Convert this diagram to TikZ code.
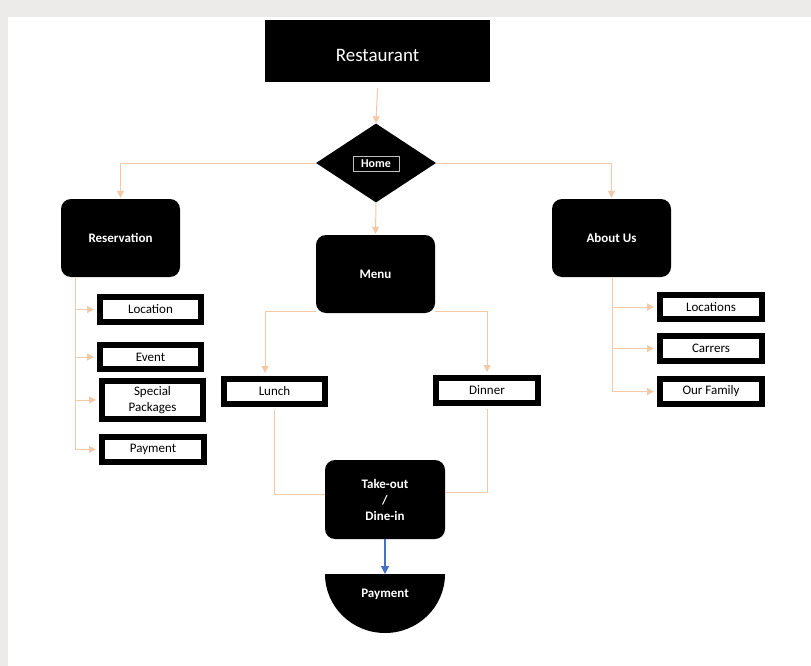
\documentclass[tikz,border=0pt]{standalone}
\usepackage{fontspec}
\setmainfont{Carlito}
\usetikzlibrary{shapes.geometric,arrows.meta}
\definecolor{peach}{RGB}{244,201,168}
\definecolor{flowblue}{RGB}{68,114,196}
\definecolor{pagegray}{RGB}{236,235,233}
\tikzset{
	blackbox/.style={fill=black, text=white, inner sep=0pt, font=\bfseries\fontsize{13}{15}\selectfont},
	roundbox/.style={blackbox, rounded corners=10pt, minimum width=119pt, minimum height=78pt},
	itembox/.style={draw=black, line width=6pt, fill=white, inner sep=0pt, minimum width=101pt, minimum height=25pt, align=center, font=\fontsize{13}{16}\selectfont},
	link/.style={draw=peach, line width=1pt},
	arrow/.style={link, -{Triangle[length=7pt,width=7pt]}}
}
\begin{document}
	\begin{tikzpicture}[x=1pt, y=-1pt]
		\useasboundingbox (0,0) rectangle (811,666);
		\fill[pagegray] (0,0) rectangle (811,666);
		\fill[white] (8,17) rectangle (811,666);	% Page
		% Top and home
		\node[blackbox, minimum width=225pt, minimum height=62pt, font=\fontsize{19}{22}\selectfont] (rest) at (377.5,51) {\raisebox{-11pt}[0pt][0pt]{Restaurant}};
		\node[diamond, fill=black, minimum width=120pt, minimum height=79pt, inner sep=0pt] (home) at (376,163) {};
		\node[draw=white!75!black, line width=0.8pt, text=white, minimum width=46pt, minimum height=15pt, inner sep=0pt, font=\bfseries\fontsize{12}{14}\selectfont] (homelabel) at (376,163.5) {Home};
		% Main sections
		\node[roundbox] (resv) at (120.5,238) {Reservation};
		\node[roundbox] (menu) at (375.5,274) {Menu};
		\node[roundbox] (about) at (611.5,238) {About Us};
		\node[roundbox, align=center, minimum width=120pt, minimum height=79pt, font=\bfseries\fontsize{13}{16}\selectfont] (take) at (385,499.5) {Take-out\\/\\Dine-in};
		% Reservation items
		\node[itembox] (loc) at (150.5,309.5) {Location};
		\node[itembox, minimum height=24pt] (event) at (150.5,357) {Event};
		\node[itembox, minimum height=38pt] (special) at (152.5,400) {Special\\Packages};
		\node[itembox, minimum width=102pt] (respay) at (153,449.5) {Payment};
		% About items
		\node[itembox, minimum width=102pt, minimum height=24pt] (locs) at (711,307) {Locations};
		\node[itembox, minimum width=102pt] (career) at (711,348.5) {Carrers};
		\node[itembox, minimum width=102pt] (family) at (711,391.5) {Our Family};
		% Menu items
		\node[itembox] (lunch) at (274.5,391.5) {Lunch};
		\node[itembox, minimum width=102pt] (dinner) at (487,390.5) {Dinner};
		% Payment half disc
		\fill (325,574) -- (445,574) arc[start angle=0, end angle=180, x radius=60, y radius=59] -- cycle;
		\coordinate (paytop) at (385,574);
		\node[text=white, font=\bfseries\fontsize{13}{15}\selectfont] (pay) at (385,594) {Payment};
		% Connectors
		\draw[arrow] ([yshift=-6pt]rest.south) -- (home.north);
		\draw[arrow] (home.west) -| ([yshift=1pt]resv.north);
		\draw[arrow] (home.east) -| ([yshift=1pt]about.north);
		\draw[arrow] (home.south) -- ([yshift=1pt]menu.north);
		\coordinate (rv) at (75,277);
		\coordinate (av) at (612,277);
		\foreach \n in {loc,event,special,respay}
			\draw[arrow, shorten >=3pt] (rv) |- (\n.west);
		\foreach \n in {locs,career,family}
			\draw[arrow, shorten >=3pt] (av) |- (\n.west);
		\draw[arrow, shorten >=3pt] ([yshift=2pt]menu.south west) -| ([xshift=-9.5pt]lunch.north);
		\draw[arrow, shorten >=3pt] ([yshift=2pt]menu.south east) -| (dinner.north);
		\draw[link, shorten <=3pt] (lunch.south) |- ([yshift=5.5pt]take.west);
		\draw[link, shorten <=3pt] (dinner.south) |- ([yshift=7.5pt]take.east);
		\draw[draw=flowblue, line width=1.2pt, -{Triangle[length=8pt,width=8pt]}] (take.south) -- (paytop);
	\end{tikzpicture}
\end{document}
